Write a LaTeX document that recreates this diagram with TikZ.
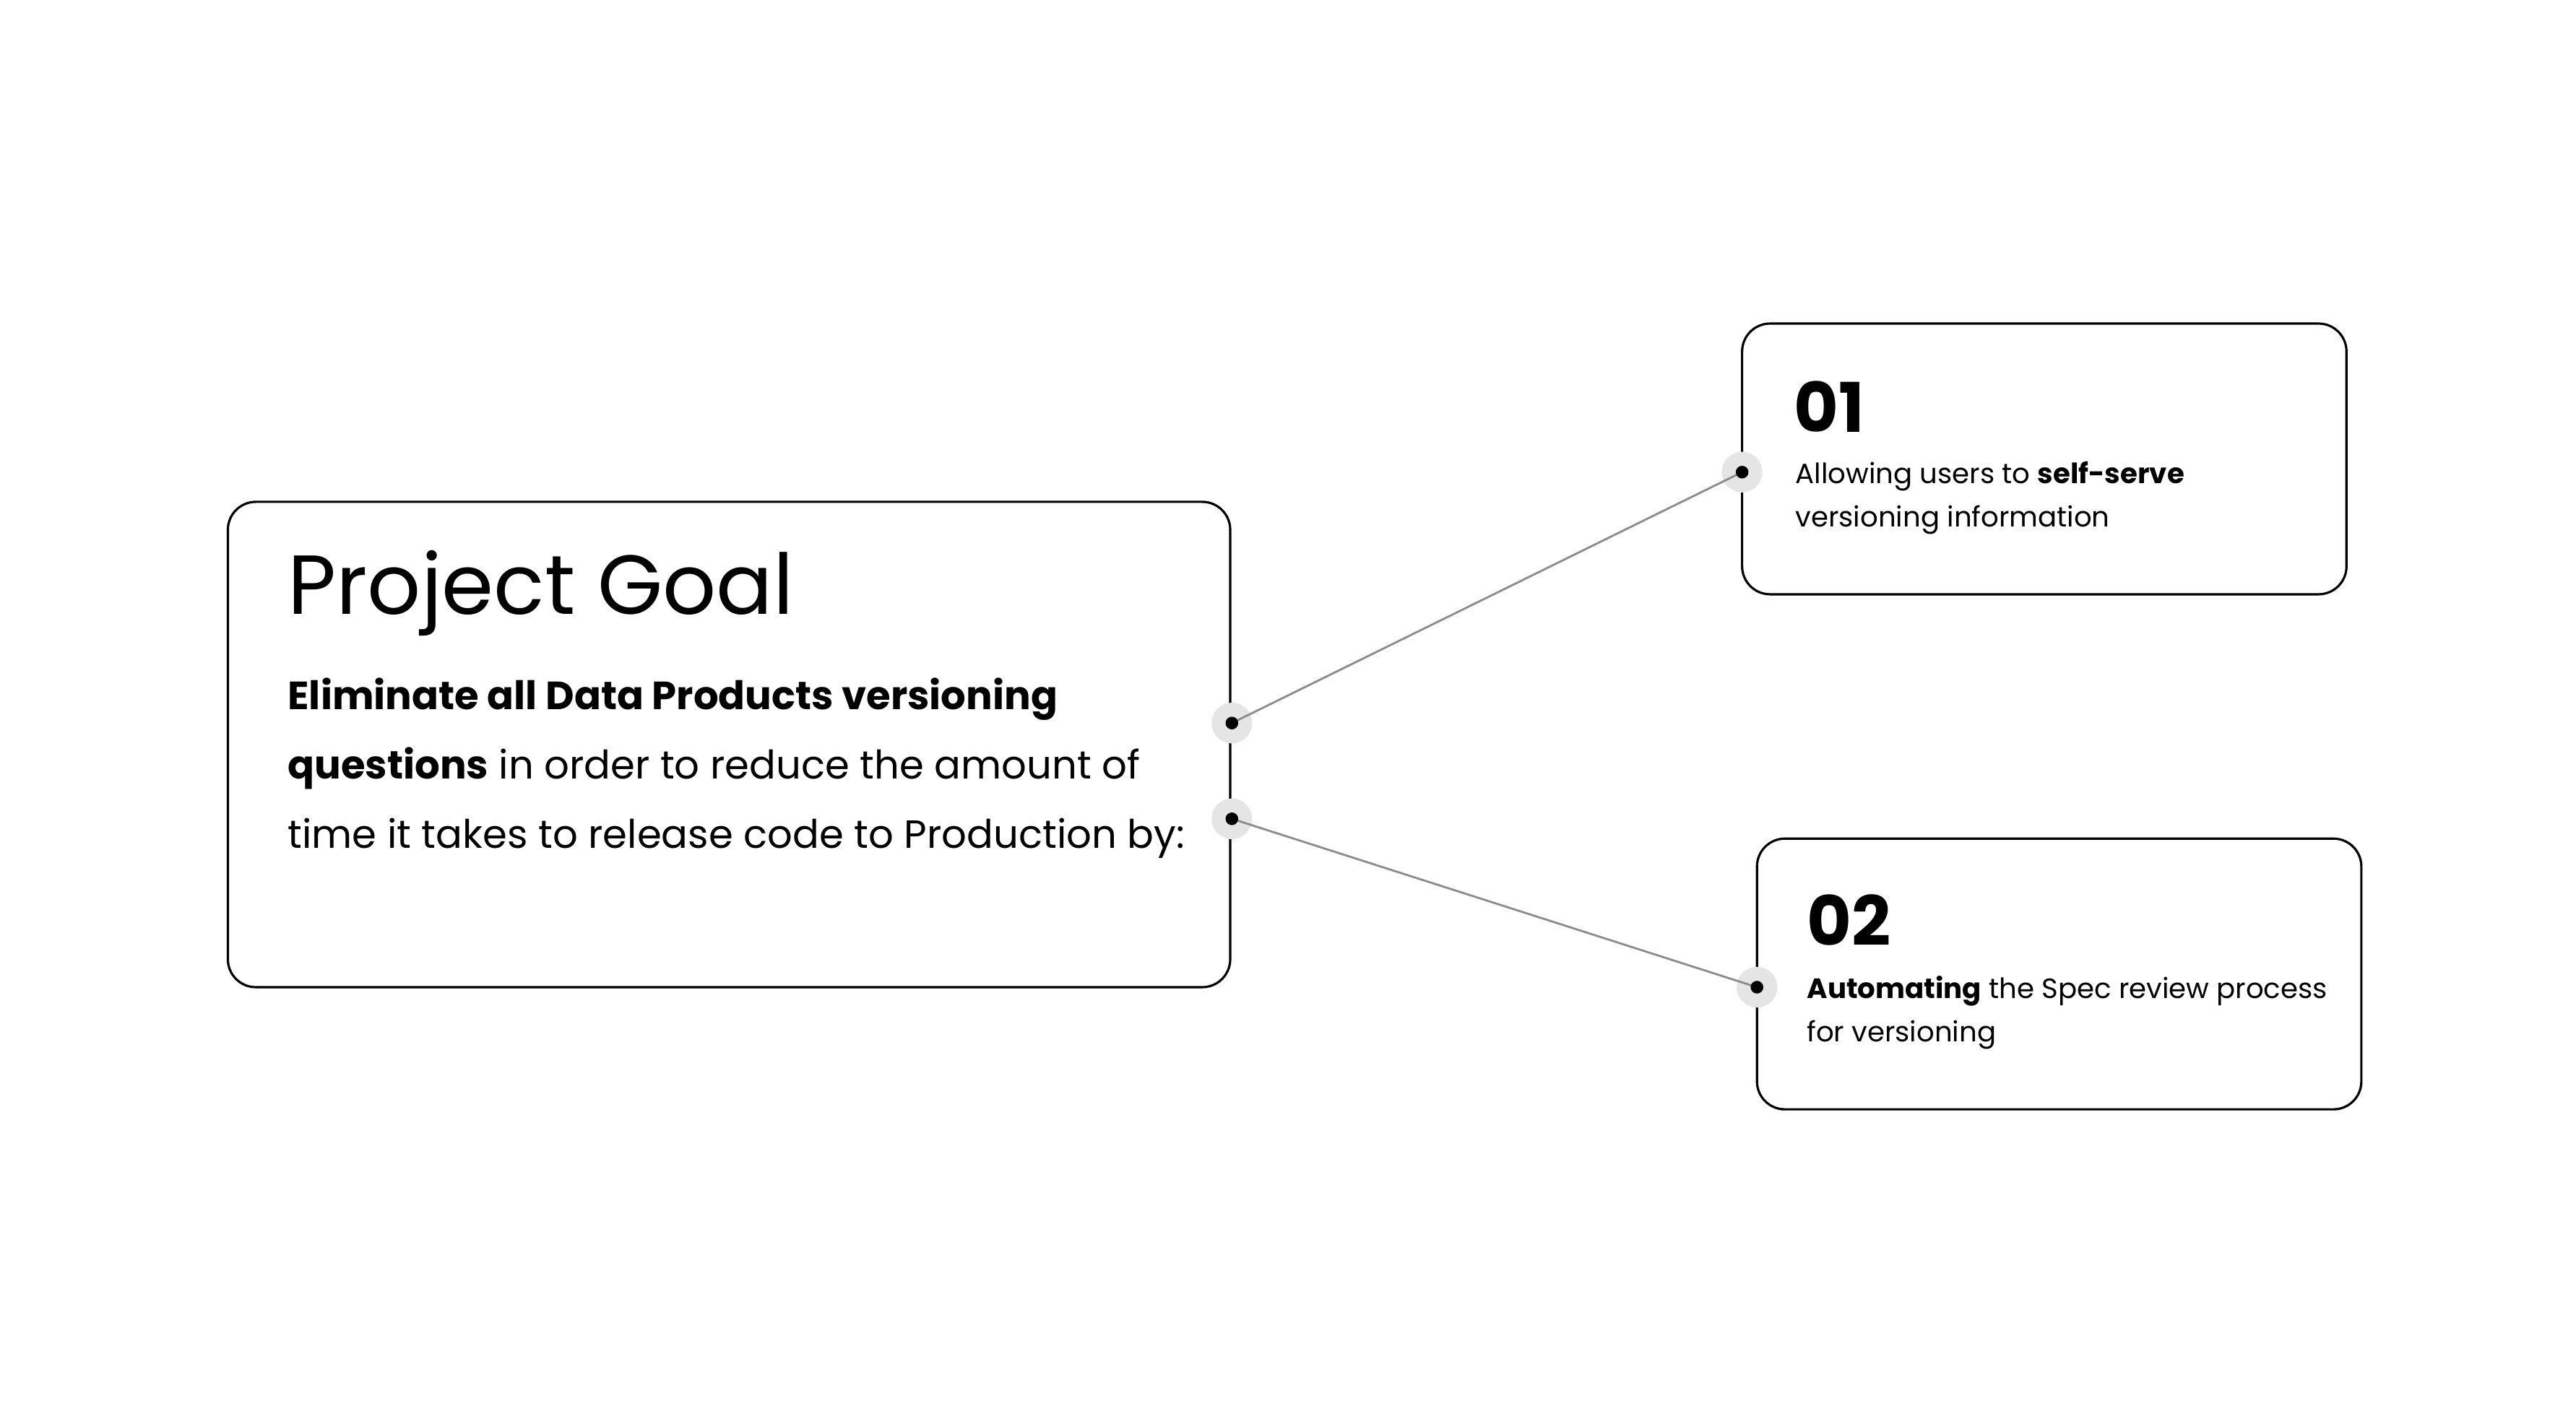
\documentclass[tikz,border=0pt]{standalone}
\usepackage{fontspec}
\setmainfont{Poppins}
\begin{document}
\begin{tikzpicture}[x=0.02286cm,y=-0.02286cm,
  card/.style={draw=black,line width=0.9pt,rounded corners=11pt},
  halo/.style={circle,fill=black!10,minimum size=16pt,inner sep=0},
  dot/.style={circle,fill=black,minimum size=5pt,inner sep=0},
  link/.style={draw=black!45,line width=0.8pt},
  txt/.style={anchor=base west,inner sep=0,align=left}]
\useasboundingbox (0,0) rectangle (1560,864);
\draw[card] (138,304) rectangle (745,598);
\draw[card] (1055,196) rectangle (1421,360);
\draw[card] (1064,508) rectangle (1430,672);
\node[txt,font=\fontsize{33}{40}\selectfont] (t) at (174,372) {Project Goal};
\node[txt,font=\fontsize{15.5}{27.3}\selectfont,text width=560\pgflinewidth] (b) at (174,430) {};
\node[txt,font=\fontsize{15.5}{27.3}\selectfont] (b1) at (174,430) {\textbf{Eliminate all Data Products versioning}};
\node[txt,font=\fontsize{15.5}{27.3}\selectfont] (b2) at (174,472) {\textbf{questions} in order to reduce the amount of};
\node[txt,font=\fontsize{15.5}{27.3}\selectfont] (b3) at (174,514) {time it takes to release code to Production by:};
\node[txt,font=\fontsize{27}{32}\selectfont\bfseries] (n1) at (1086,262) {01};
\node[txt,font=\fontsize{11}{17}\selectfont] (a1) at (1087,293) {Allowing users to \textbf{self-serve}};
\node[txt,font=\fontsize{11}{17}\selectfont] (a2) at (1087,319) {versioning information};
\node[txt,font=\fontsize{27}{32}\selectfont\bfseries] (n2) at (1094,573) {02};
\node[txt,font=\fontsize{11}{17}\selectfont] (c1) at (1094,605) {\textbf{Automating} the Spec review process};
\node[txt,font=\fontsize{11}{17}\selectfont] (c2) at (1094,631) {for versioning};
\foreach \n/\p in {h1/{746,438},h2/{746,496},h3/{1055,286},h4/{1064,598}}
  \node[halo] (\n) at (\p) {};
\coordinate (p1) at (746,438); \coordinate (p2) at (746,496);
\coordinate (q1) at (1055,286); \coordinate (q2) at (1064,598);
\draw[link] (p1) -- (q1);
\draw[link] (p2) -- (q2);
\foreach \p in {p1,p2,q1,q2} \node[dot] at (\p) {};
\end{tikzpicture}
\end{document}
